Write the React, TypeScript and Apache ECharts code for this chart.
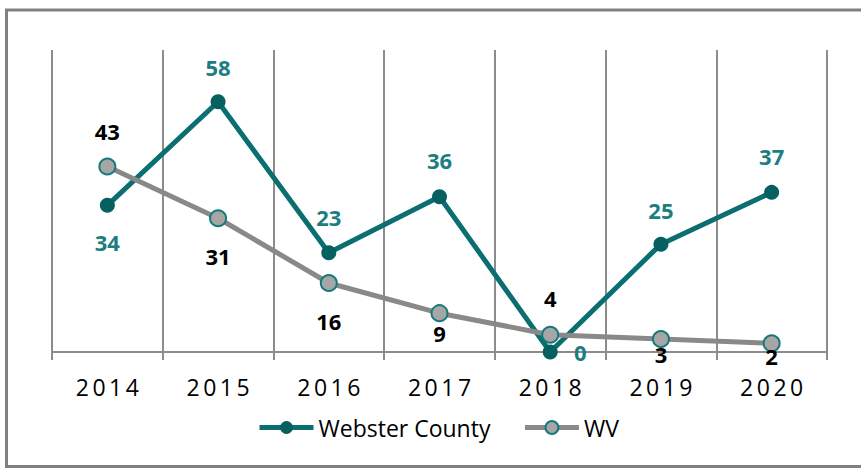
import React, { useEffect, useRef } from "react";
import * as echarts from "echarts";

const categories = ["2014", "2015", "2016", "2017", "2018", "2019", "2020"];
const websterValues = [34, 58, 23, 36, 0, 25, 37];
const wvValues = [43, 31, 16, 9, 4, 3, 2];

// label placement offsets (style, not data)
const websterLabelOffsets = [[0, 37], [0, -35], [0, -36], [0, -37], [30, 0], [0, -34], [0, -36]];
const wvLabelOffsets = [[0, -35], [0, 38], [0, 38], [0, 20], [0, -37], [0, 15], [0, 13]];

const TEAL_LINE = "#0B6F71";
const TEAL_MARK = "#05605F";
const TEAL_LABEL = "#1B7E80";
const GRAY_LINE = "#898989";
const GRAY_MARK = "#A6A6A6";
const FONT = "Open Sans";

export default function App() {
  const ref = useRef<HTMLDivElement>(null);
  useEffect(() => {
    if (!ref.current) return;
    const chart = echarts.init(ref.current, undefined, { renderer: "svg" });
    const labelBase = {
      show: true,
      position: "inside",
      fontFamily: FONT,
      fontWeight: "bold",
      fontSize: 22,
      lineHeight: 22,
    };
    chart.setOption({
      animation: false,
      backgroundColor: "#ffffff",
      textStyle: { fontFamily: FONT },
      graphic: [
        {
          type: "rect",
          shape: { x: 6.5, y: 10, width: 880, height: 456.5 },
          style: { fill: "none", stroke: "#808080", lineWidth: 3 },
          silent: true,
        },
      ],
      grid: { left: 52, right: 34, top: 50, bottom: 116 },
      xAxis: {
        type: "category",
        data: categories,
        boundaryGap: true,
        axisLine: { show: true, lineStyle: { color: "#8C8C8C", width: 2 } },
        axisTick: { show: true, length: 8, lineStyle: { color: "#8C8C8C", width: 2 } },
        splitLine: { show: true, lineStyle: { color: "#8C8C8C", width: 2 } },
        axisLabel: { fontFamily: FONT, fontSize: 23, lineHeight: 22, color: "#000000", margin: 24 },
      },
      yAxis: {
        type: "value",
        min: 0,
        max: 70,
        show: false,
        splitLine: { show: false },
      },
      legend: {
        left: 252,
        top: 411,
        itemWidth: 54,
        itemHeight: 16,
        itemGap: 32,
        lineStyle: { width: 5 },
        textStyle: { fontFamily: FONT, fontSize: 23, color: "#000000" },
        data: ["Webster County", "WV"],
      },
      series: [
        {
          name: "Webster County",
          type: "line",
          data: websterValues.map((v, i) => ({
            value: v,
            label: { ...labelBase, color: TEAL_LABEL, offset: websterLabelOffsets[i] },
          })),
          symbol: "circle",
          symbolSize: 15,
          lineStyle: { color: TEAL_LINE, width: 5 },
          itemStyle: { color: TEAL_MARK },
        },
        {
          name: "WV",
          type: "line",
          data: wvValues.map((v, i) => ({
            value: v,
            label: { ...labelBase, color: "#000000", offset: wvLabelOffsets[i] },
          })),
          symbol: "circle",
          symbolSize: 16,
          lineStyle: { color: GRAY_LINE, width: 5 },
          itemStyle: { color: GRAY_MARK, borderColor: "#17797B", borderWidth: 2 },
        },
      ],
    });
    const applySpacing = () => {
      if (!ref.current) return;
      ref.current.querySelectorAll("text").forEach((t) => {
        if (categories.includes((t.textContent || "").trim())) {
          t.setAttribute("letter-spacing", "3.5");
          t.setAttribute("dx", "1.75");
        }
      });
    };
    chart.on("finished", applySpacing);
    applySpacing();
    const t1 = setTimeout(applySpacing, 0);
    const t2 = setTimeout(applySpacing, 100);
    return () => {
      clearTimeout(t1);
      clearTimeout(t2);
      chart.dispose();
    };
  }, []);
  return (
    <div
      ref={ref}
      style={{ position: "fixed", left: 0, top: 0, width: 861, height: 468 }}
    />
  );
}
